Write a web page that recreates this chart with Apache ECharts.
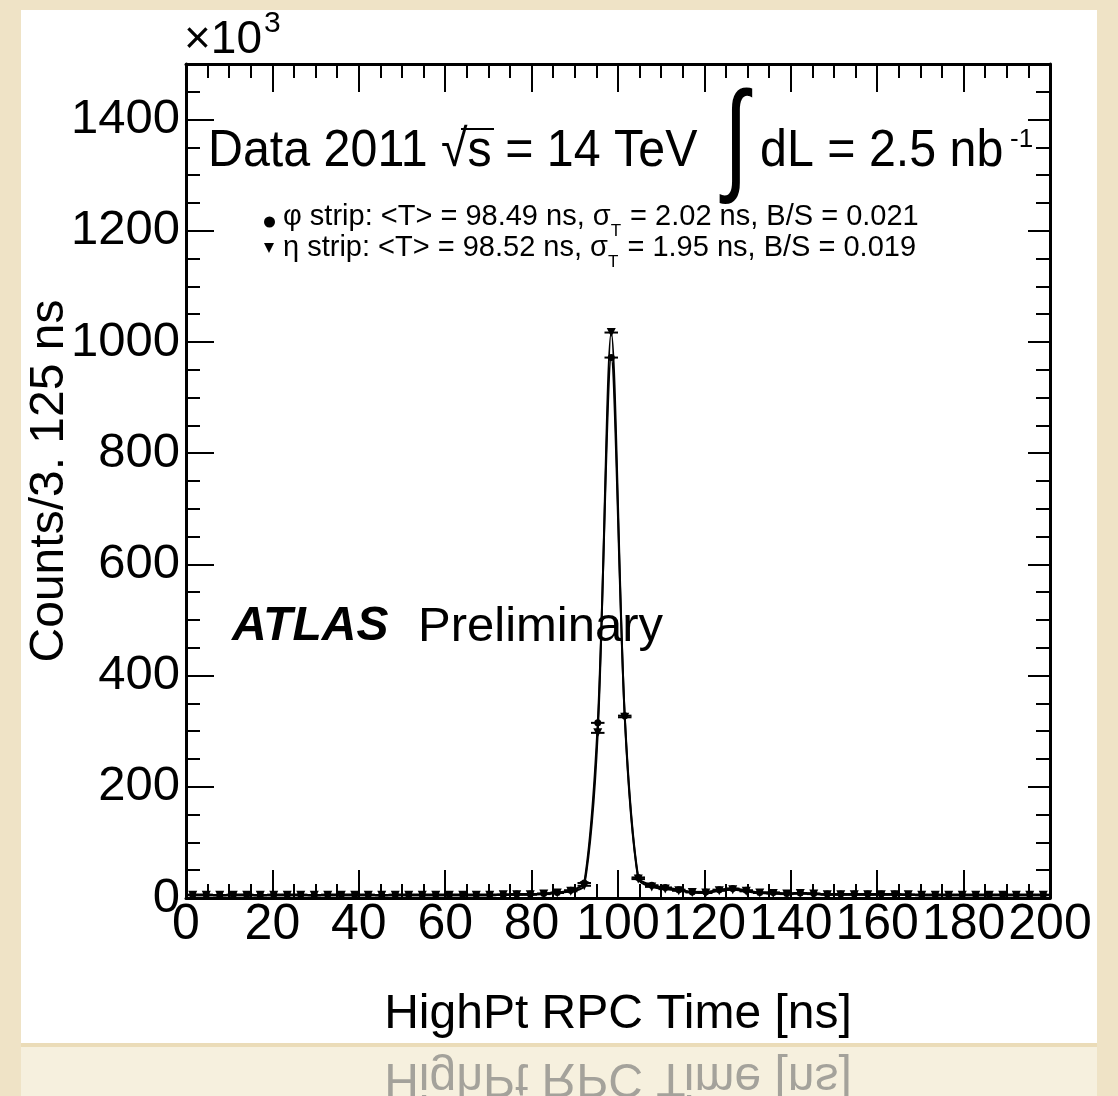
<!DOCTYPE html>
<html><head><meta charset="utf-8">
<script src="https://cdn.jsdelivr.net/npm/echarts@6/dist/echarts.min.js"></script>
<style>html,body{margin:0;padding:0;background:#efe3c6;}#c{width:1118px;height:1096px;}</style>
</head><body><div id="c"></div>
<script>
// ---- data ----
const binWidth = 3.125;
const binCenters = [1.5625, 4.6875, 7.8125, 10.9375, 14.0625, 17.1875, 20.3125, 23.4375, 26.5625, 29.6875,
  32.8125, 35.9375, 39.0625, 42.1875, 45.3125, 48.4375, 51.5625, 54.6875, 57.8125, 60.9375,
  64.0625, 67.1875, 70.3125, 73.4375, 76.5625, 79.6875, 82.8125, 85.9375, 89.0625, 92.1875,
  95.3125, 98.4375, 101.5625, 104.6875, 107.8125, 110.9375, 114.0625, 117.1875, 120.3125, 123.4375,
  126.5625, 129.6875, 132.8125, 135.9375, 139.0625, 142.1875, 145.3125, 148.4375, 151.5625, 154.6875,
  157.8125, 160.9375, 164.0625, 167.1875, 170.3125, 173.4375, 176.5625, 179.6875, 182.8125, 185.9375,
  189.0625, 192.1875, 195.3125, 198.4375];
// counts in units of 10^3
const phiCounts = [6, 6, 5, 6, 6, 5, 6, 6, 6, 5,
  6, 6, 6, 6, 5, 6, 6, 6, 6, 6,
  6, 6, 6, 6, 7, 7, 8, 10, 14, 27,
  315, 972, 328, 37, 23, 19, 15, 11, 11, 15,
  17, 14, 10, 10, 8, 9, 8, 7, 7, 7,
  7, 7, 7, 6, 6, 6, 6, 6, 6, 6,
  6, 6, 6, 6];
const etaCounts = [5, 5, 5, 5, 5, 5, 5, 5, 5, 5,
  5, 5, 5, 5, 5, 5, 5, 5, 5, 5,
  5, 5, 5, 6, 6, 6, 7, 9, 12, 22,
  297, 1017, 325, 34, 20, 16, 13, 10, 9, 13,
  15, 12, 9, 8, 7, 8, 7, 6, 6, 6,
  6, 6, 6, 6, 5, 5, 5, 5, 5, 5,
  5, 5, 5, 5];
const yLabelValues = [0, 200, 400, 600, 800, 1000, 1200, 1400];
const legendPhi = ['φ strip: <T> = 98.49 ns, σ', 'T', ' = 2.02 ns, B/S = 0.021'];
const legendEta = ['η strip: <T> = 98.52 ns, σ', 'T', ' = 1.95 ns, B/S = 0.019'];

// ---- chart ----
const FONT = '"Liberation Sans", Arial, Helvetica, sans-serif';
const BLACK = '#000';
const mctx = document.createElement('canvas').getContext('2d');
function tw(s, size) { mctx.font = size + 'px ' + FONT; return mctx.measureText(s).width; }

const chart = echarts.init(document.getElementById('c'), null, {renderer: 'canvas'});
const pairs = (ys) => binCenters.map((x, i) => [x, ys[i]]);

function xAx(pos, labels) {
  return {
    type: 'value', min: 0, max: 200, interval: 20, position: pos,
    axisLine: {show: true, onZero: false, lineStyle: {color: BLACK, width: 3}},
    axisTick: {show: true, inside: true, length: 28, lineStyle: {color: BLACK, width: 2}},
    minorTick: {show: true, splitNumber: 4, length: 14, lineStyle: {color: BLACK, width: 2}},
    axisLabel: {show: labels, color: BLACK, fontSize: 50, fontFamily: FONT, margin: 2},
    splitLine: {show: false}, minorSplitLine: {show: false}
  };
}
function yAx(pos, interval, len, labels, line) {
  return {
    type: 'value', min: 0, max: 1500, interval: interval, position: pos,
    axisLine: {show: line, onZero: false, lineStyle: {color: BLACK, width: 3}},
    axisTick: {show: true, inside: true, length: len, lineStyle: {color: BLACK, width: 2}},
    minorTick: {show: false},
    axisLabel: {show: labels, color: BLACK, fontSize: 49, fontFamily: FONT, margin: 6,
      formatter: v => (yLabelValues.indexOf(v) >= 0 ? String(v) : '')},
    splitLine: {show: false}
  };
}
function errBars(ys) {
  return {
    type: 'custom', xAxisIndex: 0, yAxisIndex: 0, z: 3,
    data: pairs(ys),
    encode: {x: 0, y: 1},
    renderItem: (params, api) => {
      const x = api.value(0), y = api.value(1);
      const a = api.coord([x - binWidth / 2, y]);
      const b = api.coord([x + binWidth / 2, y]);
      return {type: 'line', shape: {x1: a[0], y1: a[1], x2: b[0], y2: b[1]},
        style: {stroke: BLACK, lineWidth: 2}};
    }
  };
}
function curve(ys, sym, size, rot) {
  return {
    type: 'line', xAxisIndex: 0, yAxisIndex: 0, z: 4,
    data: pairs(ys), smooth: 0.3, showAllSymbol: true,
    symbol: sym, symbolSize: size, symbolRotate: rot,
    itemStyle: {color: BLACK}, lineStyle: {color: BLACK, width: 2}
  };
}

const xA = xAx('bottom', true);
xA.name = 'HighPt RPC Time [ns]';
xA.nameLocation = 'middle';
xA.nameGap = 93;
xA.nameMoveOverlap = false;
xA.nameTextStyle = {color: BLACK, fontSize: 48, fontFamily: FONT};
const yA = yAx('left', 200, 28, true, true);
yA.name = 'Counts/3. 125 ns';
yA.nameLocation = 'middle';
yA.nameGap = 112;
yA.nameMoveOverlap = false;
yA.nameTextStyle = {color: BLACK, fontSize: 48, fontFamily: FONT};

const txt = (x, y, text, size, extra) => Object.assign({
  type: 'text', x: x, y: y, z: 100,
  style: {text: text, fontSize: size, fontFamily: FONT, fill: BLACK, verticalAlign: 'middle'}
}, extra || {});

function legendLine(parts, x0, yc) {
  const fs = 29, subFs = 17;
  const xSub = x0 + tw(parts[0], fs);
  const xB = xSub + tw(parts[1], subFs) + 1;
  return [
    txt(x0, yc, parts[0], fs),
    txt(xSub, yc + 14, parts[1], subFs),
    txt(xB, yc, parts[2], fs)
  ];
}

const option = {
  backgroundColor: '#efe3c6',
  animation: false,
  grid: {left: 186, right: 68, top: 64, bottom: 198, show: false, outerBoundsMode: 'none', containLabel: false},
  xAxis: [xA, xAx('top', false)],
  yAxis: [yA, yAx('left', 50, 14, false, false), yAx('right', 200, 22, false, true), yAx('right', 50, 14, false, false)],
  series: [errBars(phiCounts), errBars(etaCounts),
    curve(phiCounts, 'circle', 7, 0), curve(etaCounts, 'triangle', 9, 180)],
  graphic: [
    {type: 'rect', z: -100, shape: {x: 21, y: 10, width: 1076, height: 1033}, style: {fill: '#ffffff'}},
    {type: 'rect', z: -100, shape: {x: 21, y: 1043, width: 1076, height: 4}, style: {fill: '#ebdcb8'}},
    {type: 'rect', z: -100, shape: {x: 21, y: 1047, width: 1076, height: 49}, style: {fill: '#f6f0de'}},
    {type: 'text', x: 618, y: 1101, scaleY: -1, z: 100,
      style: {text: 'HighPt RPC Time [ns]', fontSize: 48, fontFamily: FONT, fill: 'rgba(110,110,110,0.6)', align: 'center', verticalAlign: 'top'}},
    // x10^3
    txt(184, 40, '×10', 46),
    txt(264, 24, '3', 30),
    // title
    txt(208, 152, 'Data 2011 √s = 14 TeV', 52, {scaleX: 0.93}),
    {type: 'line', z: 100, shape: {x1: 461, y1: 129, x2: 494, y2: 129}, style: {stroke: BLACK, lineWidth: 2}},
    txt(724, 144, '∫', 110, {scaleX: 0.8, scaleY: 1.12}),
    txt(760, 152, 'dL = 2.5 nb', 52, {scaleX: 0.93}),
    txt(1010, 140, '-1', 26),
    // legend
    {type: 'circle', z: 100, shape: {cx: 269.5, cy: 222, r: 5.5}, style: {fill: BLACK}},
    {type: 'polygon', z: 100, shape: {points: [[264, 243], [274, 243], [269, 253]]}, style: {fill: BLACK}},
    ...legendLine(legendPhi, 283, 217),
    ...legendLine(legendEta, 283, 248),
    // ATLAS Preliminary
    {type: 'text', x: 232, y: 627, z: 100, style: {text: 'ATLAS', fontSize: 48, fontFamily: FONT, fontStyle: 'italic', fontWeight: 'bold', fill: BLACK, verticalAlign: 'middle'}},
    txt(418, 627, 'Preliminary', 49)
  ]
};
chart.setOption(option);
</script></body></html>
